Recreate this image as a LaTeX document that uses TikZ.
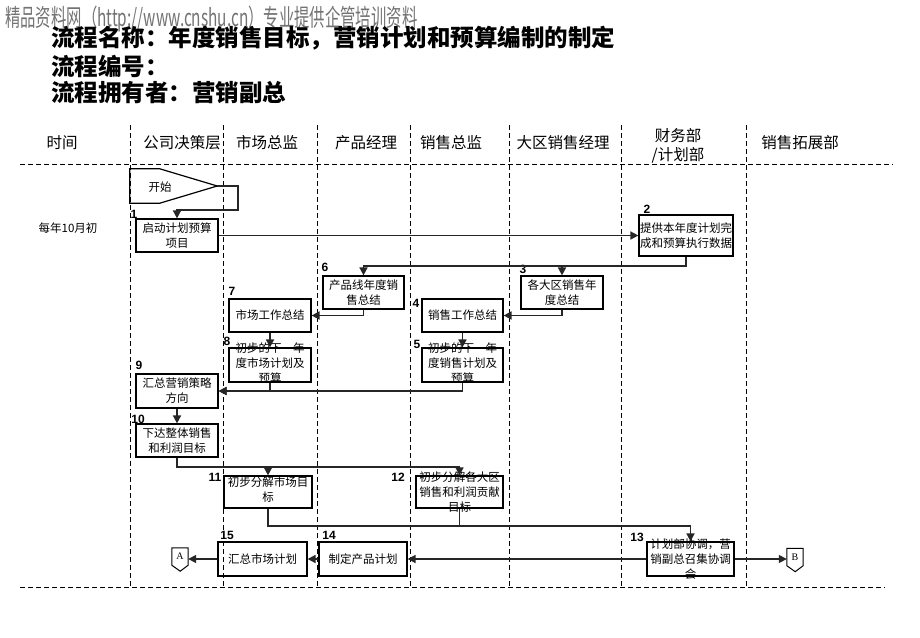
\documentclass[tikz,border=0pt]{standalone}
\usepackage{fontspec}
\setmainfont{Noto Sans CJK SC}
\newfontfamily\numfont{Liberation Sans}
\newfontfamily\serfont{Liberation Serif}
\usetikzlibrary{arrows.meta}
\begin{document}
\begin{tikzpicture}[x=1pt,y=-1pt,
    bx/.style={draw,line width=1.2pt,inner sep=0pt},
    tx/.style={align=center,inner sep=0pt,font=\fontsize{11.5}{15}\selectfont},
    nr/.style={inner sep=0pt,font=\numfont\bfseries\fontsize{12}{12}\selectfont},
    hd/.style={align=center,inner sep=0pt,font=\fontsize{15.5}{19}\selectfont},
    ln/.style={line width=1pt,dash pattern=on 5pt off 3pt},
    ar/.style={line width=1.6pt,black!85,-{Triangle[length=8pt,width=8pt]}},
    op/.style={inner sep=0pt,minimum width=16,minimum height=17,font=\serfont\fontsize{10}{10}\selectfont}]
  \useasboundingbox (0,0) rectangle (920,637);
  % heading
  \node[anchor=west,text=black!55,inner sep=0pt] (wm) at (5,19)
    {\scalebox{0.64}[1]{\fontsize{24}{24}\selectfont 精品资料网（http://www.cnshu.cn）专业提供企管培训资料}};
  \node[anchor=west,inner sep=0pt,font=\bfseries\fontsize{23.5}{27}\selectfont] (ttl1) at (51,38) {流程名称：年度销售目标，营销计划和预算编制的制定};
  \node[anchor=west,inner sep=0pt,font=\bfseries\fontsize{23.5}{27}\selectfont] (ttl2) at (51,66) {流程编号：};
  \node[anchor=west,inner sep=0pt,font=\bfseries\fontsize{23.5}{27}\selectfont] (ttl3) at (51,93) {流程拥有者：营销副总};
  % lanes
  \draw[ln] (20,164) -- (893,164);
  \draw[ln] (20,587) -- (885,587);
  \draw[ln] (130,125) -- (130,587);
  \draw[ln] (223,125) -- (223,587);
  \draw[ln] (317,125) -- (317,587);
  \draw[ln] (410,125) -- (410,587);
  \draw[ln] (509,125) -- (509,587);
  \draw[ln] (621,125) -- (621,587);
  \draw[ln] (746,125) -- (746,587);
  \node[hd] (h0) at (62,143) {时间};
  \node[hd] (h1) at (182,143) {公司决策层};
  \node[hd] (h2) at (267,143) {市场总监};
  \node[hd] (h3) at (366,143) {产品经理};
  \node[hd] (h4) at (451,143) {销售总监};
  \node[hd] (h5) at (563,143) {大区销售经理};
  \node[hd] (h6) at (678,146) {财务部\\/计划部};
  \node[hd] (h7) at (800,143) {销售拓展部};
  \node[tx] (tm) at (68,228) {每年10月初};
  % start
  \node[inner sep=0pt,minimum width=87,minimum height=34] (st) at (173.5,186) {};
  \draw[line width=1.2pt] (st.north west) -- ++(30,0) -- (st.east) -- ([xshift=30pt]st.south west) -- (st.south west) -- cycle;
  \node[tx] (stt) at (160,187) {开始};
  % boxes
  \node[bx,minimum width=82,minimum height=33] (b1) at (177,235.5) {};
  \node[tx] (t1) at (b1) {启动计划预算\\项目};
  \node[bx,minimum width=94,minimum height=41] (b2) at (686,235.5) {};
  \node[tx] (t2) at (b2) {提供本年度计划完\\成和预算执行数据};
  \node[bx,minimum width=82,minimum height=33] (b3) at (562,292.5) {};
  \node[tx] (t3) at (b3) {各大区销售年\\度总结};
  \node[bx,minimum width=81,minimum height=33] (b4) at (462.5,315.5) {};
  \node[tx] (t4) at (b4) {销售工作总结};
  \node[bx,minimum width=81,minimum height=34] (b5) at (462.5,365) {};
  \node[tx] (t5) at ([yshift=2pt]b5) {初步的下一年\\度销售计划及\\预算};
  \node[bx,minimum width=81,minimum height=33] (b6) at (363.5,292.5) {};
  \node[tx] (t6) at (b6) {产品线年度销\\售总结};
  \node[bx,minimum width=82,minimum height=33] (b7) at (270,315.5) {};
  \node[tx] (t7) at (b7) {市场工作总结};
  \node[bx,minimum width=82,minimum height=34] (b8) at (270,365) {};
  \node[tx] (t8) at ([yshift=2pt]b8) {初步的下一年\\度市场计划及\\预算};
  \node[bx,minimum width=82,minimum height=34] (b9) at (177,391) {};
  \node[tx] (t9) at (b9) {汇总营销策略\\方向};
  \node[bx,minimum width=82,minimum height=33] (b10) at (177,440.5) {};
  \node[tx] (t10) at (b10) {下达整体销售\\和利润目标};
  \node[bx,minimum width=88,minimum height=32] (b11) at (268,492) {};
  \node[tx] (t11) at ([yshift=2pt]b11) {初步分解市场目\\标};
  \node[bx,minimum width=87,minimum height=32] (b12) at (459.5,492) {};
  \node[tx] (t12) at (b12) {初步分解各大区\\销售和利润贡献\\目标};
  \node[bx,minimum width=87,minimum height=34] (b13) at (690.5,559) {};
  \node[tx] (t13) at (b13) {计划部协调，营\\销副总召集协调\\会};
  \node[bx,minimum width=88,minimum height=34] (b14) at (363,559) {};
  \node[tx] (t14) at (b14) {制定产品计划};
  \node[bx,minimum width=89,minimum height=34] (b15) at (262.5,559) {};
  \node[tx] (t15) at (b15) {汇总市场计划};
  % numbers
  \node[nr] (n1) at (134,214) {1};
  \node[nr] (n2) at (647,209) {2};
  \node[nr] (n3) at (523,269) {3};
  \node[nr] (n4) at (416,303) {4};
  \node[nr] (n5) at (417,344) {5};
  \node[nr] (n6) at (325,267) {6};
  \node[nr] (n7) at (232,291) {7};
  \node[nr] (n8) at (227,341) {8};
  \node[nr] (n9) at (139,365) {9};
  \node[nr] (n10) at (138,419) {10};
  \node[nr] (n11) at (215,477) {11};
  \node[nr] (n12) at (398,477) {12};
  \node[nr] (n13) at (637,537) {13};
  \node[nr] (n14) at (329,535) {14};
  \node[nr] (n15) at (227,535) {15};
  % off-page connectors
  \node[op] (pa) at (180,556.5) {A};
  \draw[line width=1pt] (pa.north west) -- (pa.north east) -- (pa.south east) -- ++(-8,6) -- (pa.south west) -- cycle;
  \node[op] (pb) at (795,557) {B};
  \draw[line width=1pt] (pb.north west) -- (pb.north east) -- (pb.south east) -- ++(-8,6) -- (pb.south west) -- cycle;
  % flow
  \coordinate (c0) at (238,210);
  \coordinate (c2) at (686,266);
  \coordinate (c10) at (177,467);
  \coordinate (c11) at (268,526);
  \draw[ar] (st.east) -| (c0) -| (b1.north);
  \draw[ar] (b1.east) -- (b1.east -| b2.west);
  \draw[ar] (b2.south) -- (c2) -| (b6.north);
  \draw[ar] (c2) -| (b3.north);
  \draw[ar] (b6.south) |- (b7.east);
  \draw[ar] (b3.south) |- (b4.east);
  \draw[ar] (b7.south) -- (b8.north);
  \draw[ar] (b4.south) -- (b5.north);
  \draw[ar] (b8.south) |- (b9.east);
  \draw[ar] (b5.south) |- (b9.east);
  \draw[ar] (b9.south) -- (b10.north);
  \draw[ar] (b10.south) -- (c10) -| (b12.north);
  \draw[ar] (c10) -| (b11.north);
  \draw[ar] (b11.south) -- (c11) -| (b13.north);
  \draw[line width=1.6pt,black!85] (b12.south) -- (b12.south |- c11);
  \draw[ar] (b13.west) -- (b14.east);
  \draw[ar] (b14.west) -- (b15.east);
  \draw[ar] (b15.west) -- (b15.west -| pa.east);
  \draw[ar] (b13.east) -- (b13.east -| pb.west);
\end{tikzpicture}
\end{document}
